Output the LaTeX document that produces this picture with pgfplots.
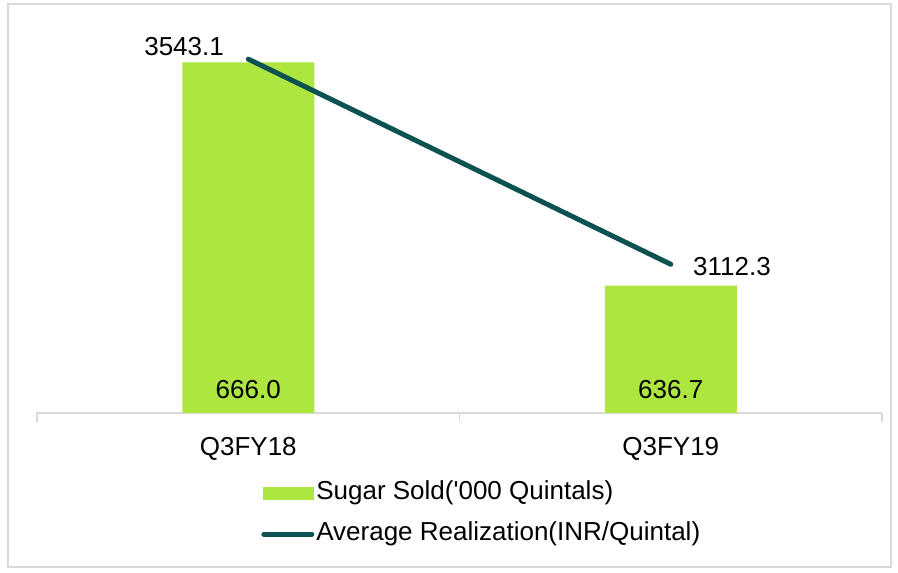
\documentclass[border=0pt]{standalone}
\usepackage{fontspec}
\setmainfont{Liberation Sans}
\usepackage{pgfplots}
\pgfplotsset{compat=1.18}
\definecolor{barG}{RGB}{173,230,62}
\definecolor{lineT}{RGB}{12,82,82}
\definecolor{gridG}{RGB}{217,217,217}
\newcommand\f{\fontsize{13}{15.6}\selectfont}
\begin{document}
\begin{tikzpicture}[x=1pt,y=1pt]
\path[use as bounding box] (0,0) rectangle (449,286);
\draw[gridG, line width=0.75pt] (4,2.5) rectangle (445.5,284);
\begin{axis}[
  at={(18.5pt,79.5pt)}, anchor=south west,
  scale only axis, width=422.5pt, height=190.5pt,
  xmin=-0.5, xmax=1.5, ymin=620, ymax=670,
  hide y axis,
  axis x line*=bottom,
  x axis line style={draw=gridG, line width=0.75pt, -},
  xtick={0,1}, xticklabels={Q3FY18,Q3FY19},
  major tick length=0pt,
  extra x ticks={-0.5,0.5,1.5}, extra x tick labels={},
  extra x tick style={tick align=outside, major tick length=4.5pt, tick style={draw=gridG, line width=0.75pt}},
  xticklabel style={font=\f, text=black, yshift=-8.5pt},
  legend style={at={(0.265,-0.171)}, anchor=north west, draw=none, fill=none, inner sep=0pt, row sep=6pt, font=\f, nodes={inner sep=1pt, text height=9.5pt, text depth=3pt}},
  legend cell align=left,
]
\addplot[ybar, bar width=66pt, fill=barG, draw=none,
  legend image code/.code={\fill[barG] (0pt,-3.25pt) rectangle (25.5pt,3.25pt);}]
  coordinates {(0,666.0) (1,636.7)};
\addlegendentry{Sugar Sold(\textquotesingle000 Quintals)}
\addlegendimage{lineT, line width=2.5pt, line cap=round,
  legend image code/.code={\draw[lineT, line width=2.5pt, line cap=round] (0.5pt,0pt) -- (24.5pt,0pt);}}
\addlegendentry{Average Realization(INR/Quintal)}
\node[font=\f, anchor=base, inner sep=0pt, yshift=7.3pt] at (axis cs:0,620) {666.0};
\node[font=\f, anchor=base, inner sep=0pt, yshift=7.3pt] at (axis cs:1,620) {636.7};
\end{axis}
\begin{axis}[
  at={(18.5pt,79.5pt)}, anchor=south west,
  scale only axis, width=422.5pt, height=190.5pt,
  xmin=-0.5, xmax=1.5, ymin=2800, ymax=3600,
  hide axis, clip=false,
]
\addplot[lineT, line width=2.5pt, line cap=round] coordinates {(0,3543.1) (1,3112.3)};
\node[font=\f, anchor=base east, inner sep=0pt, xshift=-12pt, yshift=2pt] at (axis cs:0,3543.1) {3543.1};
\node[font=\f, anchor=base west, inner sep=0pt, xshift=11pt, yshift=-5.5pt] at (axis cs:1,3112.3) {3112.3};
\end{axis}
\end{tikzpicture}
\end{document}
